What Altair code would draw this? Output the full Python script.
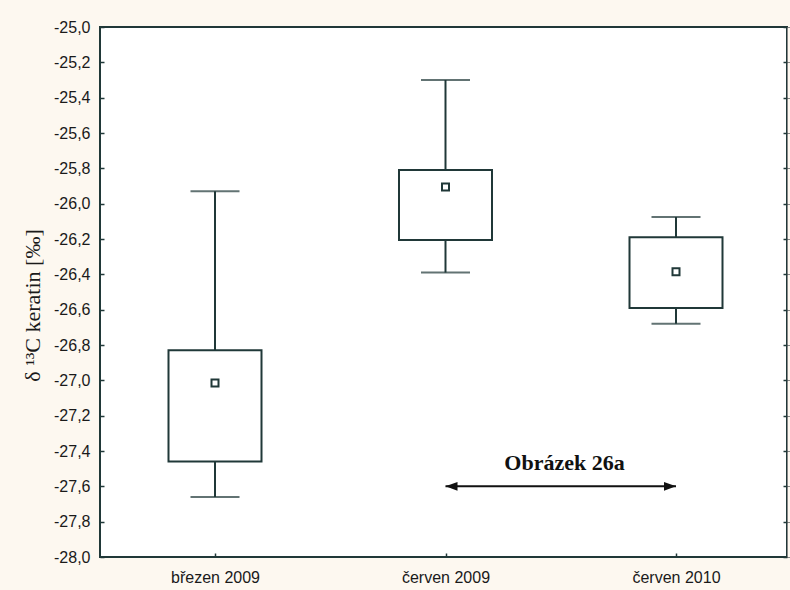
import altair as alt
import pandas as pd

# Sampling periods and the box statistics of delta 13C in keratin
categories = ["březen 2009", "červen 2009", "červen 2010"]
whisker_low = [-27.66, -26.39, -26.68]
box_low = [-27.46, -26.205, -26.59]
center = [-27.015, -25.905, -26.385]
box_high = [-26.83, -25.81, -26.19]
whisker_high = [-25.93, -25.30, -26.075]

# y axis tick values
y_ticks = [-28.0, -27.8, -27.6, -27.4, -27.2, -27.0, -26.8, -26.6, -26.4,
           -26.2, -26.0, -25.8, -25.6, -25.4, -25.2, -25.0]

# double-headed arrow with its caption
arrow_from = "červen 2009"
arrow_to = "červen 2010"
arrow_level = -27.6
note_text = "Obrázek 26a"
note_level = -27.47

INK = "#203838"
LABEL = "#1a1a1a"
CREAM = "#fdf8f0"

df = pd.DataFrame({
    "obdobi": categories,
    "wlo": whisker_low,
    "qlo": box_low,
    "mid": center,
    "qhi": box_high,
    "whi": whisker_high,
})
arrow_df = pd.DataFrame({"a": [arrow_from], "b": [arrow_to], "y": [arrow_level]})
note_df = pd.DataFrame({"obdobi": [arrow_from], "y": [note_level], "t": [note_text]})

label_expr = "replace(replace(format(datum.value, '.1f'), '.', ','), '\u2212', '-')"

x_scale = alt.Scale(type="point", domain=categories, range=[115, 576], padding=0)
y_scale = alt.Scale(domain=[-28.0, -25.0], nice=False, zero=False)

x_enc = alt.X(
    "obdobi:N", scale=x_scale, sort=categories, title=None,
    axis=alt.Axis(labelAngle=0, labelFontSize=16, labelFont="Liberation Sans",
                  labelColor=LABEL, tickSize=4, offset=-4, domain=False,
                  tickColor=INK, tickWidth=1.5, labelPadding=12, grid=False, zindex=1),
)

left_axis = alt.Axis(
    values=y_ticks, labelExpr=label_expr, tickSize=4, offset=-4, domain=False,
    grid=False, labelFontSize=16, labelFont="Liberation Sans", labelColor=LABEL,
    labelPadding=10, tickColor=INK, tickWidth=1.5, zindex=1,
    title="δ ¹³C keratin [‰]", titleFont="Liberation Serif", titleFontWeight="normal",
    titleFontSize=22, titleColor=LABEL, titleAngle=270, titleAlign="center",
    titleBaseline="middle", titleX=-72, titleY=278,
)
right_axis = alt.Axis(
    orient="right", values=y_ticks, labels=False, title=None, tickSize=4,
    offset=-4, domain=False, grid=False, tickColor=INK, tickWidth=1.5, zindex=1,
)

whiskers = alt.Chart(df).mark_rule(color=INK, strokeWidth=2).encode(
    x=x_enc,
    y=alt.Y("wlo:Q", scale=y_scale, axis=left_axis),
    y2="whi:Q",
)

caps_low = alt.Chart(df).mark_tick(color=INK, size=49, thickness=2, orient="horizontal").encode(
    x=x_enc, y=alt.Y("wlo:Q", scale=y_scale),
)
caps_high = alt.Chart(df).mark_tick(color=INK, size=49, thickness=2, orient="horizontal").encode(
    x=x_enc, y=alt.Y("whi:Q", scale=y_scale),
)

boxes = alt.Chart(df).mark_bar(size=93, fill="white", stroke=INK, strokeWidth=2).encode(
    x=x_enc, y=alt.Y("qlo:Q", scale=y_scale), y2="qhi:Q",
)

medians = alt.Chart(df).mark_point(
    shape="square", size=49, filled=True, fill="white", stroke=INK, strokeWidth=2, opacity=1
).encode(
    x=x_enc, y=alt.Y("mid:Q", scale=y_scale, axis=right_axis),
)

arrow_line = alt.Chart(arrow_df).mark_rule(color="#111111", strokeWidth=2).encode(
    x=alt.X("a:N", scale=x_scale), x2="b:N", y=alt.Y("y:Q", scale=y_scale),
)
head_left = alt.Chart(arrow_df).mark_point(
    shape="M0,0L1,-0.36L1,0.36Z", size=576, filled=True, color="#111111", opacity=1
).encode(x=alt.X("a:N", scale=x_scale), y=alt.Y("y:Q", scale=y_scale))
head_right = alt.Chart(arrow_df).mark_point(
    shape="M0,0L-1,-0.36L-1,0.36Z", size=576, filled=True, color="#111111", opacity=1
).encode(x=alt.X("b:N", scale=x_scale), y=alt.Y("y:Q", scale=y_scale))

note = alt.Chart(note_df).mark_text(
    font="Liberation Serif", fontSize=22, fontWeight="bold", color="#111111",
    dx=119, baseline="middle", align="center",
).encode(x=alt.X("obdobi:N", scale=x_scale), y=alt.Y("y:Q", scale=y_scale), text="t:N")

chart = alt.layer(
    whiskers, caps_low, caps_high, boxes, medians,
    arrow_line, head_left, head_right, note,
).resolve_axis(y="independent").properties(
    width=687, height=530,
    autosize=alt.AutoSizeParams(type="none"),
    padding={"left": 100, "top": 27, "right": 3, "bottom": 33},
    background=CREAM,
).configure_view(
    fill="white", stroke=INK, strokeWidth=2,
)

chart.save("out.html", embed_options={"renderer": "svg", "actions": False})
